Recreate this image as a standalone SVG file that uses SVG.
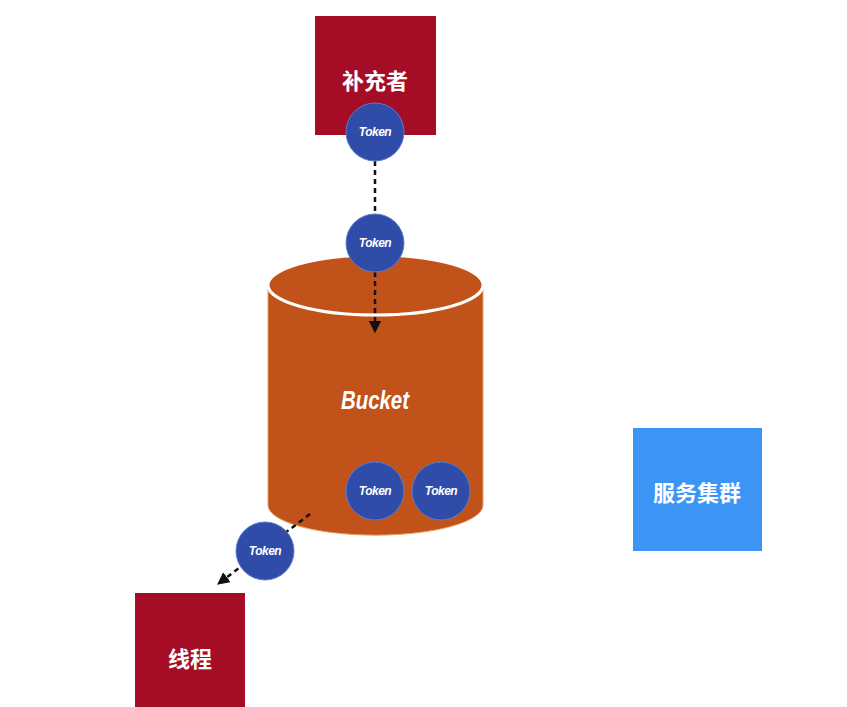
<svg xmlns="http://www.w3.org/2000/svg" width="847" height="707" viewBox="0 0 847 707">
<defs>
<marker id="ah" viewBox="0 0 10 10" refX="9" refY="5" markerWidth="5" markerHeight="5" orient="auto" markerUnits="strokeWidth">
<path d="M0,0 L10,5 L0,10 z" fill="#111"/>
</marker>
<style>
.box-red{fill:#A50C26;}
.box-blue{fill:#3C95F4;}
.cn{font-family:"Noto Sans CJK SC","Noto Sans",sans-serif;font-weight:bold;fill:#fff;font-size:22px;text-anchor:middle;dominant-baseline:central;}
.tok circle{fill:#2E4CA8;stroke:#5B7BD0;stroke-width:1;}
.tok text{font-family:"Liberation Sans",Arial,sans-serif;font-style:italic;font-weight:bold;font-size:12px;fill:#fff;text-anchor:middle;dominant-baseline:central;letter-spacing:-0.5px;}
.conn{stroke:#111;stroke-width:2.5;stroke-dasharray:5,4;fill:none;}
</style>
</defs>
<rect width="847" height="707" fill="#fff"/>
<g id="node-replenisher">
<rect class="box-red" x="315" y="16" width="121" height="119"/>
<text class="cn" x="375" y="79">补充者</text>
</g>
<g id="node-bucket">
<path d="M268,285 L268,505 A107,30 0 0 0 483,505 L483,285 Z" fill="#C1521A" stroke="#E8A060" stroke-width="1"/>
<ellipse cx="375.5" cy="285" rx="107.5" ry="30" fill="#C1521A" stroke="#fff" stroke-width="3"/>
<text x="375" y="400" font-family="Liberation Sans,Arial,sans-serif" font-style="italic" font-weight="bold" font-size="25" fill="#fff" text-anchor="middle" dominant-baseline="central" textLength="68" lengthAdjust="spacingAndGlyphs">Bucket</text>
</g>
<g id="node-service">
<rect class="box-blue" x="633" y="428" width="129" height="123"/>
<text class="cn" x="697" y="491">服务集群</text>
</g>
<g id="node-thread">
<rect class="box-red" x="135" y="593" width="110" height="120"/>
<text class="cn" x="190" y="657">线程</text>
</g>
<g id="connectors">
<line class="conn" x1="375" y1="161" x2="375" y2="214"/>
<line class="conn" x1="375" y1="272" x2="375" y2="332" marker-end="url(#ah)"/>
<line class="conn" x1="310" y1="514" x2="218" y2="584" marker-end="url(#ah)"/>
</g>
<g id="token-1" class="tok"><circle cx="375" cy="132" r="29"/><text x="375" y="132">Token</text></g>
<g id="token-2" class="tok"><circle cx="375" cy="243" r="29"/><text x="375" y="243">Token</text></g>
<g id="token-3" class="tok"><circle cx="375" cy="491" r="29"/><text x="375" y="491">Token</text></g>
<g id="token-4" class="tok"><circle cx="441" cy="491" r="29"/><text x="441" y="491">Token</text></g>
<g id="token-5" class="tok"><circle cx="265" cy="551" r="29"/><text x="265" y="551">Token</text></g>
</svg>
